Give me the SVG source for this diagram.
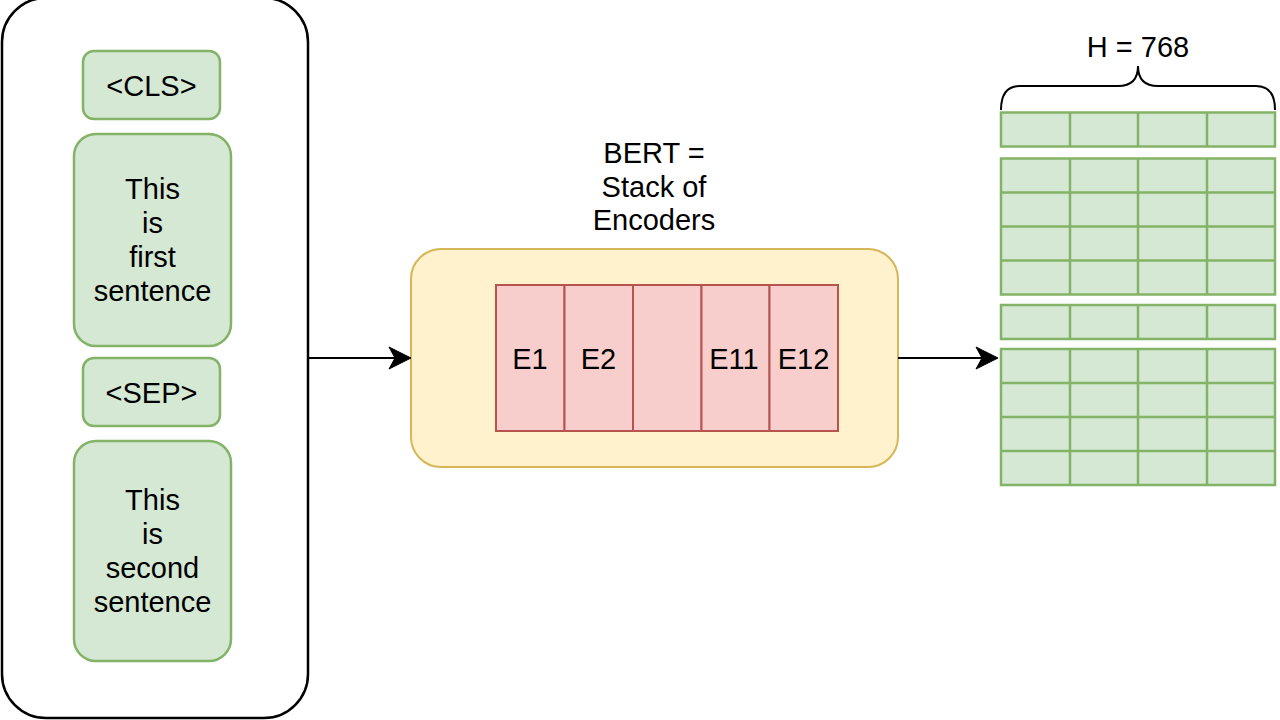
<svg xmlns="http://www.w3.org/2000/svg" width="1280" height="720" viewBox="0 0 1280 720">
<style>
.t{font-family:"Liberation Sans",Arial,Helvetica,sans-serif;font-size:29px;fill:#000;text-anchor:middle;dominant-baseline:central}
.g{fill:#d5e8d4;stroke:#82b366;stroke-width:2.5}
.r{fill:#f8cecc;stroke:#b85450;stroke-width:2}
.y{fill:#fff2cc;stroke:#d6b656;stroke-width:2}
.c{fill:none;stroke:#000;stroke-width:2}
.gl{stroke:#82b366;stroke-width:2.5;fill:none}
</style>
<rect width="1280" height="720" fill="#fff"/>
<g id="input">
<rect x="2" y="-2" width="306" height="720" rx="44" ry="44" fill="#fff" stroke="#000" stroke-width="2.5"/>
</g>
<g id="cls">
<rect class="g" x="83" y="51" width="137" height="68" rx="11"/>
<text class="t" x="151.5" y="86">&lt;CLS&gt;</text>
</g>
<g id="sentence1">
<rect class="g" x="74" y="134" width="157" height="212" rx="22"/>
<text class="t" x="152.5" y="189">This</text>
<text class="t" x="152.5" y="223">is</text>
<text class="t" x="152.5" y="257">first</text>
<text class="t" x="152.5" y="291">sentence</text>
</g>
<g id="sep">
<rect class="g" x="83" y="358" width="137" height="68" rx="11"/>
<text class="t" x="151.5" y="393">&lt;SEP&gt;</text>
</g>
<g id="sentence2">
<rect class="g" x="74" y="441" width="157" height="220" rx="22"/>
<text class="t" x="152.5" y="500">This</text>
<text class="t" x="152.5" y="534">is</text>
<text class="t" x="152.5" y="568">second</text>
<text class="t" x="152.5" y="602">sentence</text>
</g>
<g id="bert-label">
<text class="t" x="654" y="153">BERT =</text>
<text class="t" x="654" y="187">Stack of</text>
<text class="t" x="654" y="220">Encoders</text>
</g>
<g id="bert">
<rect class="y" x="411" y="249" width="487" height="218" rx="30"/>
</g>
<g id="encoders">
<rect class="r" x="496" y="285" width="68.5" height="146"/>
<rect class="r" x="564.5" y="285" width="68.5" height="146"/>
<rect class="r" x="633" y="285" width="68.5" height="146"/>
<rect class="r" x="701.5" y="285" width="68" height="146"/>
<rect class="r" x="769.5" y="285" width="68.5" height="146"/>
<text class="t" x="530" y="359">E1</text>
<text class="t" x="598.5" y="359">E2</text>
<text class="t" x="734" y="359">E11</text>
<text class="t" x="803.5" y="359">E12</text>
</g>
<g id="output">
<text class="t" x="1138" y="47">H = 768</text>
<path class="c" d="M1001,110 Q1001,86 1020,86 L1118,86 Q1138,86 1138,66 Q1138,86 1158,86 L1256,86 Q1275,86 1275,110"/>
<g id="row-cls">
<rect class="g" x="1001" y="112.5" width="274" height="34"/>
<path class="gl" d="M1070,112.5V146.5M1138,112.5V146.5M1207,112.5V146.5"/>
</g>
<g id="rows-s1">
<rect class="g" x="1001" y="158.5" width="274" height="136"/>
<path class="gl" d="M1070,158.5V294.5M1138,158.5V294.5M1207,158.5V294.5M1001,192.5H1275M1001,226.5H1275M1001,260.5H1275"/>
</g>
<g id="row-sep">
<rect class="g" x="1001" y="305" width="274" height="34"/>
<path class="gl" d="M1070,305V339M1138,305V339M1207,305V339"/>
</g>
<g id="rows-s2">
<rect class="g" x="1001" y="349" width="274" height="136"/>
<path class="gl" d="M1070,349V485M1138,349V485M1207,349V485M1001,383H1275M1001,417H1275M1001,451H1275"/>
</g>
</g>
<g id="connectors">
<path class="c" d="M308,358H398"/>
<path d="M411,358L389,347L395,358L389,369Z" fill="#000" stroke="#000" stroke-width="1"/>
<path class="c" d="M898,358H985"/>
<path d="M998,358L976,347L982,358L976,369Z" fill="#000" stroke="#000" stroke-width="1"/>
</g>
</svg>
